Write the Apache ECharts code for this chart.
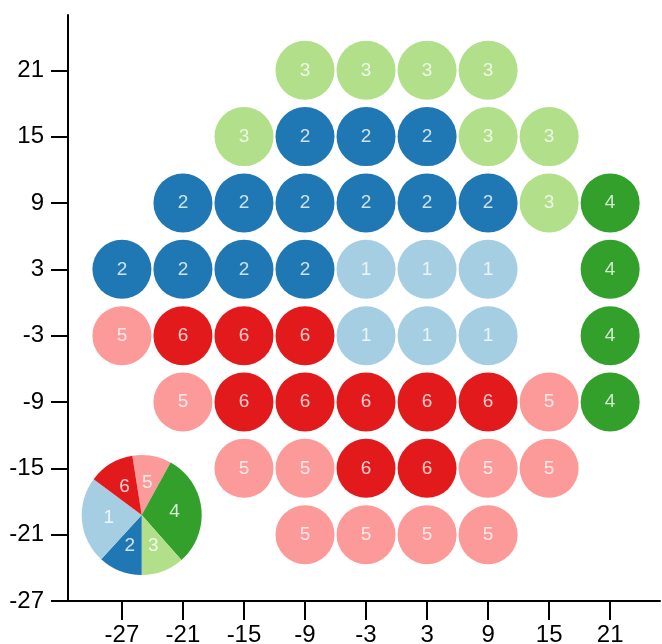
<!DOCTYPE html>
<html>
<head>
<meta charset="utf-8">
<script src="https://cdn.jsdelivr.net/npm/echarts@6/dist/echarts.min.js"></script>
<style>
  html, body { margin: 0; padding: 0; background: #fff; }
  #chart { width: 662px; height: 644px; }
</style>
</head>
<body>
<div id="chart"></div>
<script>
// Grid column / row positions
const xValues = [-27, -21, -15, -9, -3, 3, 9, 15, 21];
const yValues = [21, 15, 9, 3, -3, -9, -15, -21];
// Cluster id per cell (0 = empty), rows follow yValues, columns follow xValues
const clusterGrid = [
  [0, 0, 0, 3, 3, 3, 3, 0, 0],
  [0, 0, 3, 2, 2, 2, 3, 3, 0],
  [0, 2, 2, 2, 2, 2, 2, 3, 4],
  [2, 2, 2, 2, 1, 1, 1, 0, 4],
  [5, 6, 6, 6, 1, 1, 1, 0, 4],
  [0, 5, 6, 6, 6, 6, 6, 5, 4],
  [0, 0, 5, 5, 6, 6, 5, 5, 0],
  [0, 0, 0, 5, 5, 5, 5, 0, 0]
];
// Tick labels
const xTicks = [-27, -21, -15, -9, -3, 3, 9, 15, 21];
const yTicks = [-27, -21, -15, -9, -3, 3, 9, 15, 21];
// Inset pie (clockwise from top)
const pieClusters = [5, 4, 3, 2, 1, 6];
const pieShares = [10.5, 30.5, 11.5, 11.8, 23.4, 12.3];

const clusterColors = {
  1: '#a6cee3', 2: '#1f78b4', 3: '#b2df8a',
  4: '#33a02c', 5: '#fb9a99', 6: '#e31a1c'
};

const points = [];
yValues.forEach((y, r) => {
  xValues.forEach((x, c) => {
    const k = clusterGrid[r][c];
    if (k) points.push([x, y, k]);
  });
});

const pieData = pieClusters.map((k, i) => ({
  name: String(k), value: pieShares[i],
  itemStyle: { color: clusterColors[k] }
}));

const FONT = "'Liberation Sans', Arial, sans-serif";
const chart = echarts.init(document.getElementById('chart'), null, { renderer: 'canvas' });
chart.setOption({
  animation: false,
  backgroundColor: '#fff',
  grid: { left: 68, right: 2, top: 15, bottom: 43, containLabel: false, outerBoundsMode: 'none' },
  xAxis: {
    type: 'value', min: -32.3, max: 25.9,
    axisLine: { onZero: false, lineStyle: { color: '#000', width: 2 } },
    axisTick: { show: true, length: 19, lineStyle: { color: '#000', width: 2 }, customValues: xTicks },
    axisLabel: { color: '#000', fontSize: 24, fontFamily: FONT, margin: 22, customValues: xTicks },
    splitLine: { show: false }
  },
  yAxis: {
    type: 'value', min: -27, max: 26,
    axisLine: { onZero: false, lineStyle: { color: '#000', width: 2 } },
    axisTick: { show: true, length: 17, lineStyle: { color: '#000', width: 2 }, customValues: yTicks },
    axisLabel: { color: '#000', fontSize: 24, fontFamily: FONT, margin: 24, customValues: yTicks },
    splitLine: { show: false }
  },
  series: [
    {
      type: 'scatter',
      data: points,
      symbol: 'circle',
      symbolSize: 59,
      itemStyle: { color: p => clusterColors[p.data[2]], opacity: 1 },
      label: {
        show: true, position: 'inside',
        formatter: p => String(p.data[2]),
        color: 'rgba(255,255,255,0.78)', fontSize: 19, fontFamily: FONT
      },
      emphasis: { disabled: true }
    },
    {
      type: 'pie',
      center: [141.7, 515],
      radius: [0, 60],
      startAngle: 99,
      clockwise: true,
      data: pieData,
      label: {
        show: true, position: 'inside',
        formatter: '{b}',
        color: 'rgba(255,255,255,0.8)', fontSize: 19, fontFamily: FONT
      },
      labelLine: { show: false },
      emphasis: { disabled: true },
      z: 5
    }
  ]
});
</script>
</body>
</html>
